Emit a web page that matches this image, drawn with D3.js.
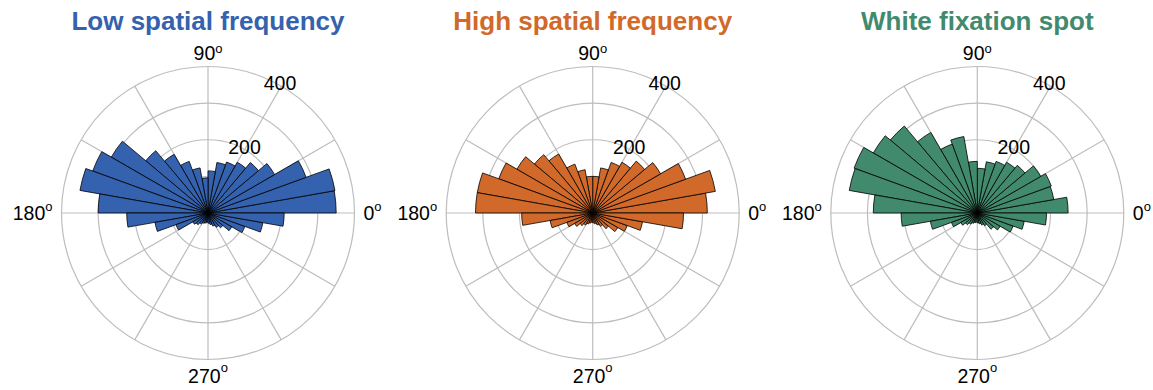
<!DOCTYPE html>
<html>
<head>
<meta charset="utf-8">
<script src="https://cdn.jsdelivr.net/npm/d3@7"></script>
<style>
  html, body { margin: 0; padding: 0; background: #fff; }
  svg { display: block; }
  text { font-family: "Liberation Sans", Arial, sans-serif; }
</style>
</head>
<body>
<div id="chart"></div>
<script>
// Direction histograms: 36 bins of 10 degrees, counted counter-clockwise from 0 deg (east).
const binEdges = d3.range(0, 370, 10);

const panelTitles = ["Low spatial frequency", "High spatial frequency", "White fixation spot"];
const panelColors = ["#3562ae", "#d0692a", "#428a6e"];

const lowSF = [
  350, 352, 285, 210, 180, 160, 148, 140, 115,
  96, 125, 150, 185, 222, 305, 335, 355, 300,
  222, 147, 93, 48, 42, 35, 30, 28, 25,
  28, 32, 38, 45, 53, 75, 107, 152, 208
];
const highSF = [
  313, 340, 270, 214, 185, 160, 147, 125, 100,
  100, 120, 142, 186, 208, 239, 273, 320, 320,
  194, 118, 75, 57, 45, 38, 32, 28, 25,
  27, 30, 35, 42, 56, 79, 100, 138, 248
];
const whiteSpot = [
  248, 212, 215, 200, 170, 160, 150, 142, 122,
  141, 212, 200, 254, 310, 328, 358, 355, 284,
  208, 130, 75, 52, 42, 35, 30, 27, 25,
  27, 30, 35, 40, 58, 72, 104, 130, 189
];
const panelValues = [lowSF, highSF, whiteSpot];

const ringTicks = [100, 200, 300, 400];
const ringLabels = [200, 400];
const spokeAngles = d3.range(0, 360, 30);
const angleLabels = [
  { deg: 0, text: "0" },
  { deg: 90, text: "90" },
  { deg: 180, text: "180" },
  { deg: 270, text: "270" }
];

const W = 1153, H = 390;
const centersX = [208, 592.7, 977.3];
const centerY = 213;
const outerR = 146.5;
const rMax = 400;

const svg = d3.select("#chart").append("svg")
  .attr("width", W).attr("height", H);

const rScale = d3.scaleLinear().domain([0, rMax]).range([0, outerR]);
const toRad = d => d * Math.PI / 180;
// polar -> screen (math convention, y up)
const px = (deg, r) => r * Math.cos(toRad(deg));
const py = (deg, r) => -r * Math.sin(toRad(deg));

const arc = d3.arc().innerRadius(0);
const gridColor = "#bdbdbd";
const labelSize = 19.5;

panelValues.forEach((vals, i) => {
  const g = svg.append("g").attr("transform", `translate(${centersX[i]},${centerY})`);

  // grid rings
  g.selectAll("circle.ring").data(ringTicks).join("circle")
    .attr("class", "ring")
    .attr("r", d => rScale(d))
    .attr("fill", "none")
    .attr("stroke", gridColor)
    .attr("stroke-width", 1.2);

  // spokes
  g.selectAll("line.spoke").data(spokeAngles).join("line")
    .attr("class", "spoke")
    .attr("x1", 0).attr("y1", 0)
    .attr("x2", d => px(d, outerR))
    .attr("y2", d => py(d, outerR))
    .attr("stroke", gridColor)
    .attr("stroke-width", 1.2);

  // bars
  const bins = vals.map((v, k) => ({ v, a0: binEdges[k], a1: binEdges[k + 1] }));
  g.selectAll("path.bar").data(bins).join("path")
    .attr("class", "bar")
    .attr("d", d => arc({
      outerRadius: rScale(d.v),
      startAngle: Math.PI / 2 - toRad(d.a1),
      endAngle: Math.PI / 2 - toRad(d.a0)
    }))
    .attr("fill", panelColors[i])
    .attr("stroke", "#000")
    .attr("stroke-width", 0.8)
    .attr("stroke-linejoin", "miter");

  // radial tick labels
  g.selectAll("text.rlab").data(ringLabels).join("text")
    .attr("class", "rlab")
    .attr("x", d => px(61, rScale(d) + 2))
    .attr("y", d => py(61, rScale(d) + 2))
    .attr("text-anchor", "middle")
    .attr("dominant-baseline", "central")
    .attr("font-size", labelSize)
    .attr("fill", "#000")
    .text(d => d);

  // angle labels
  const pad = 9;
  angleLabels.forEach(a => {
    let x = px(a.deg, outerR + pad), y = py(a.deg, outerR + pad);
    let anchor = "middle", base = "central";
    if (a.deg === 0) anchor = "start";
    if (a.deg === 180) anchor = "end";
    if (a.deg === 90) base = "auto";
    if (a.deg === 270) { base = "hanging"; }
    const t = g.append("text")
      .attr("x", x).attr("y", a.deg === 90 ? y + 2 : y)
      .attr("text-anchor", anchor)
      .attr("dominant-baseline", base)
      .attr("font-size", labelSize)
      .attr("fill", "#000");
    t.append("tspan").text(a.text);
    t.append("tspan").attr("font-size", 13).attr("dy", -7).text("o");
  });

  // title
  svg.append("text")
    .attr("x", centersX[i])
    .attr("y", 30)
    .attr("text-anchor", "middle")
    .attr("font-size", 26)
    .attr("font-weight", "bold")
    .attr("fill", panelColors[i])
    .text(panelTitles[i]);
});
</script>
</body>
</html>
